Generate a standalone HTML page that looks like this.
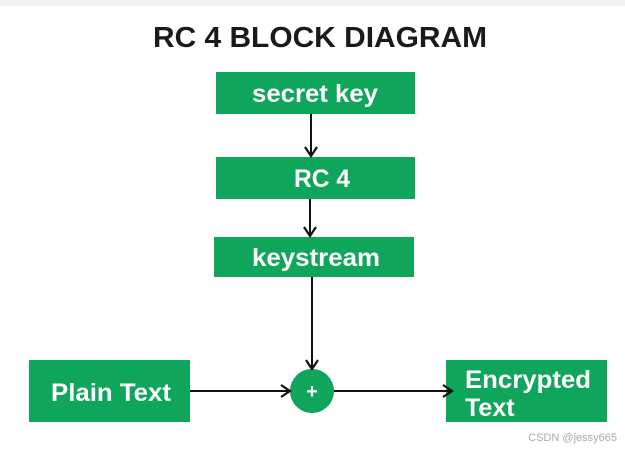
<!DOCTYPE html>
<html><head><style>
body{margin:0;width:625px;height:447px;background:#fff;overflow:hidden;font-family:"Liberation Sans",Arial,sans-serif;}
</style></head><body>
<svg width="625" height="447" xmlns="http://www.w3.org/2000/svg">
<rect x="0" y="0" width="625" height="6" fill="#f2f2f2"/>
<text x="320" y="47" font-size="29" font-weight="bold" fill="#1a1a1a" text-anchor="middle" textLength="334" lengthAdjust="spacingAndGlyphs" font-family="Liberation Sans, sans-serif">RC 4 BLOCK DIAGRAM</text>
<defs><marker id="a" markerWidth="14" markerHeight="14" refX="11" refY="7" orient="auto" markerUnits="userSpaceOnUse"><path d="M2,1 L11,7 L2,13" fill="none" stroke="#111" stroke-width="2.2"/></marker></defs>
<g fill="#0fa55a">
<rect x="216" y="72" width="199" height="42"/>
<rect x="216" y="157" width="199" height="42"/>
<rect x="214" y="237" width="200" height="40"/>
<rect x="29" y="360" width="161" height="62"/>
<rect x="446" y="360" width="161" height="62"/>
<circle cx="312" cy="391" r="22"/>
</g>
<g stroke="#111" stroke-width="2" fill="none">
<line x1="311" y1="114" x2="311" y2="156" marker-end="url(#a)"/>
<line x1="310" y1="199" x2="310" y2="236" marker-end="url(#a)"/>
<line x1="312" y1="277" x2="312" y2="369" marker-end="url(#a)"/>
<line x1="190" y1="391" x2="290" y2="391" marker-end="url(#a)"/>
<line x1="334" y1="391" x2="452" y2="391" marker-end="url(#a)"/>
</g>
<g fill="#fff" font-weight="bold" font-family="Liberation Sans, sans-serif" text-anchor="middle">
<text x="315" y="102" font-size="25" textLength="126" lengthAdjust="spacingAndGlyphs">secret key</text>
<text x="322" y="187" font-size="25" textLength="56" lengthAdjust="spacingAndGlyphs">RC 4</text>
<text x="316" y="266" font-size="25" textLength="128" lengthAdjust="spacingAndGlyphs">keystream</text>
<text x="111" y="401" font-size="25" textLength="120" lengthAdjust="spacingAndGlyphs">Plain Text</text>
<text x="312" y="398" font-size="20">+</text>
<text x="465" y="388" font-size="25" text-anchor="start" textLength="126" lengthAdjust="spacingAndGlyphs">Encrypted</text>
<text x="465" y="416" font-size="25" text-anchor="start">Text</text>
</g>
<text x="617" y="441" font-size="11" fill="#aaa" text-anchor="end" font-family="Liberation Sans, sans-serif">CSDN @jessy665</text>
</svg>
</body></html>
